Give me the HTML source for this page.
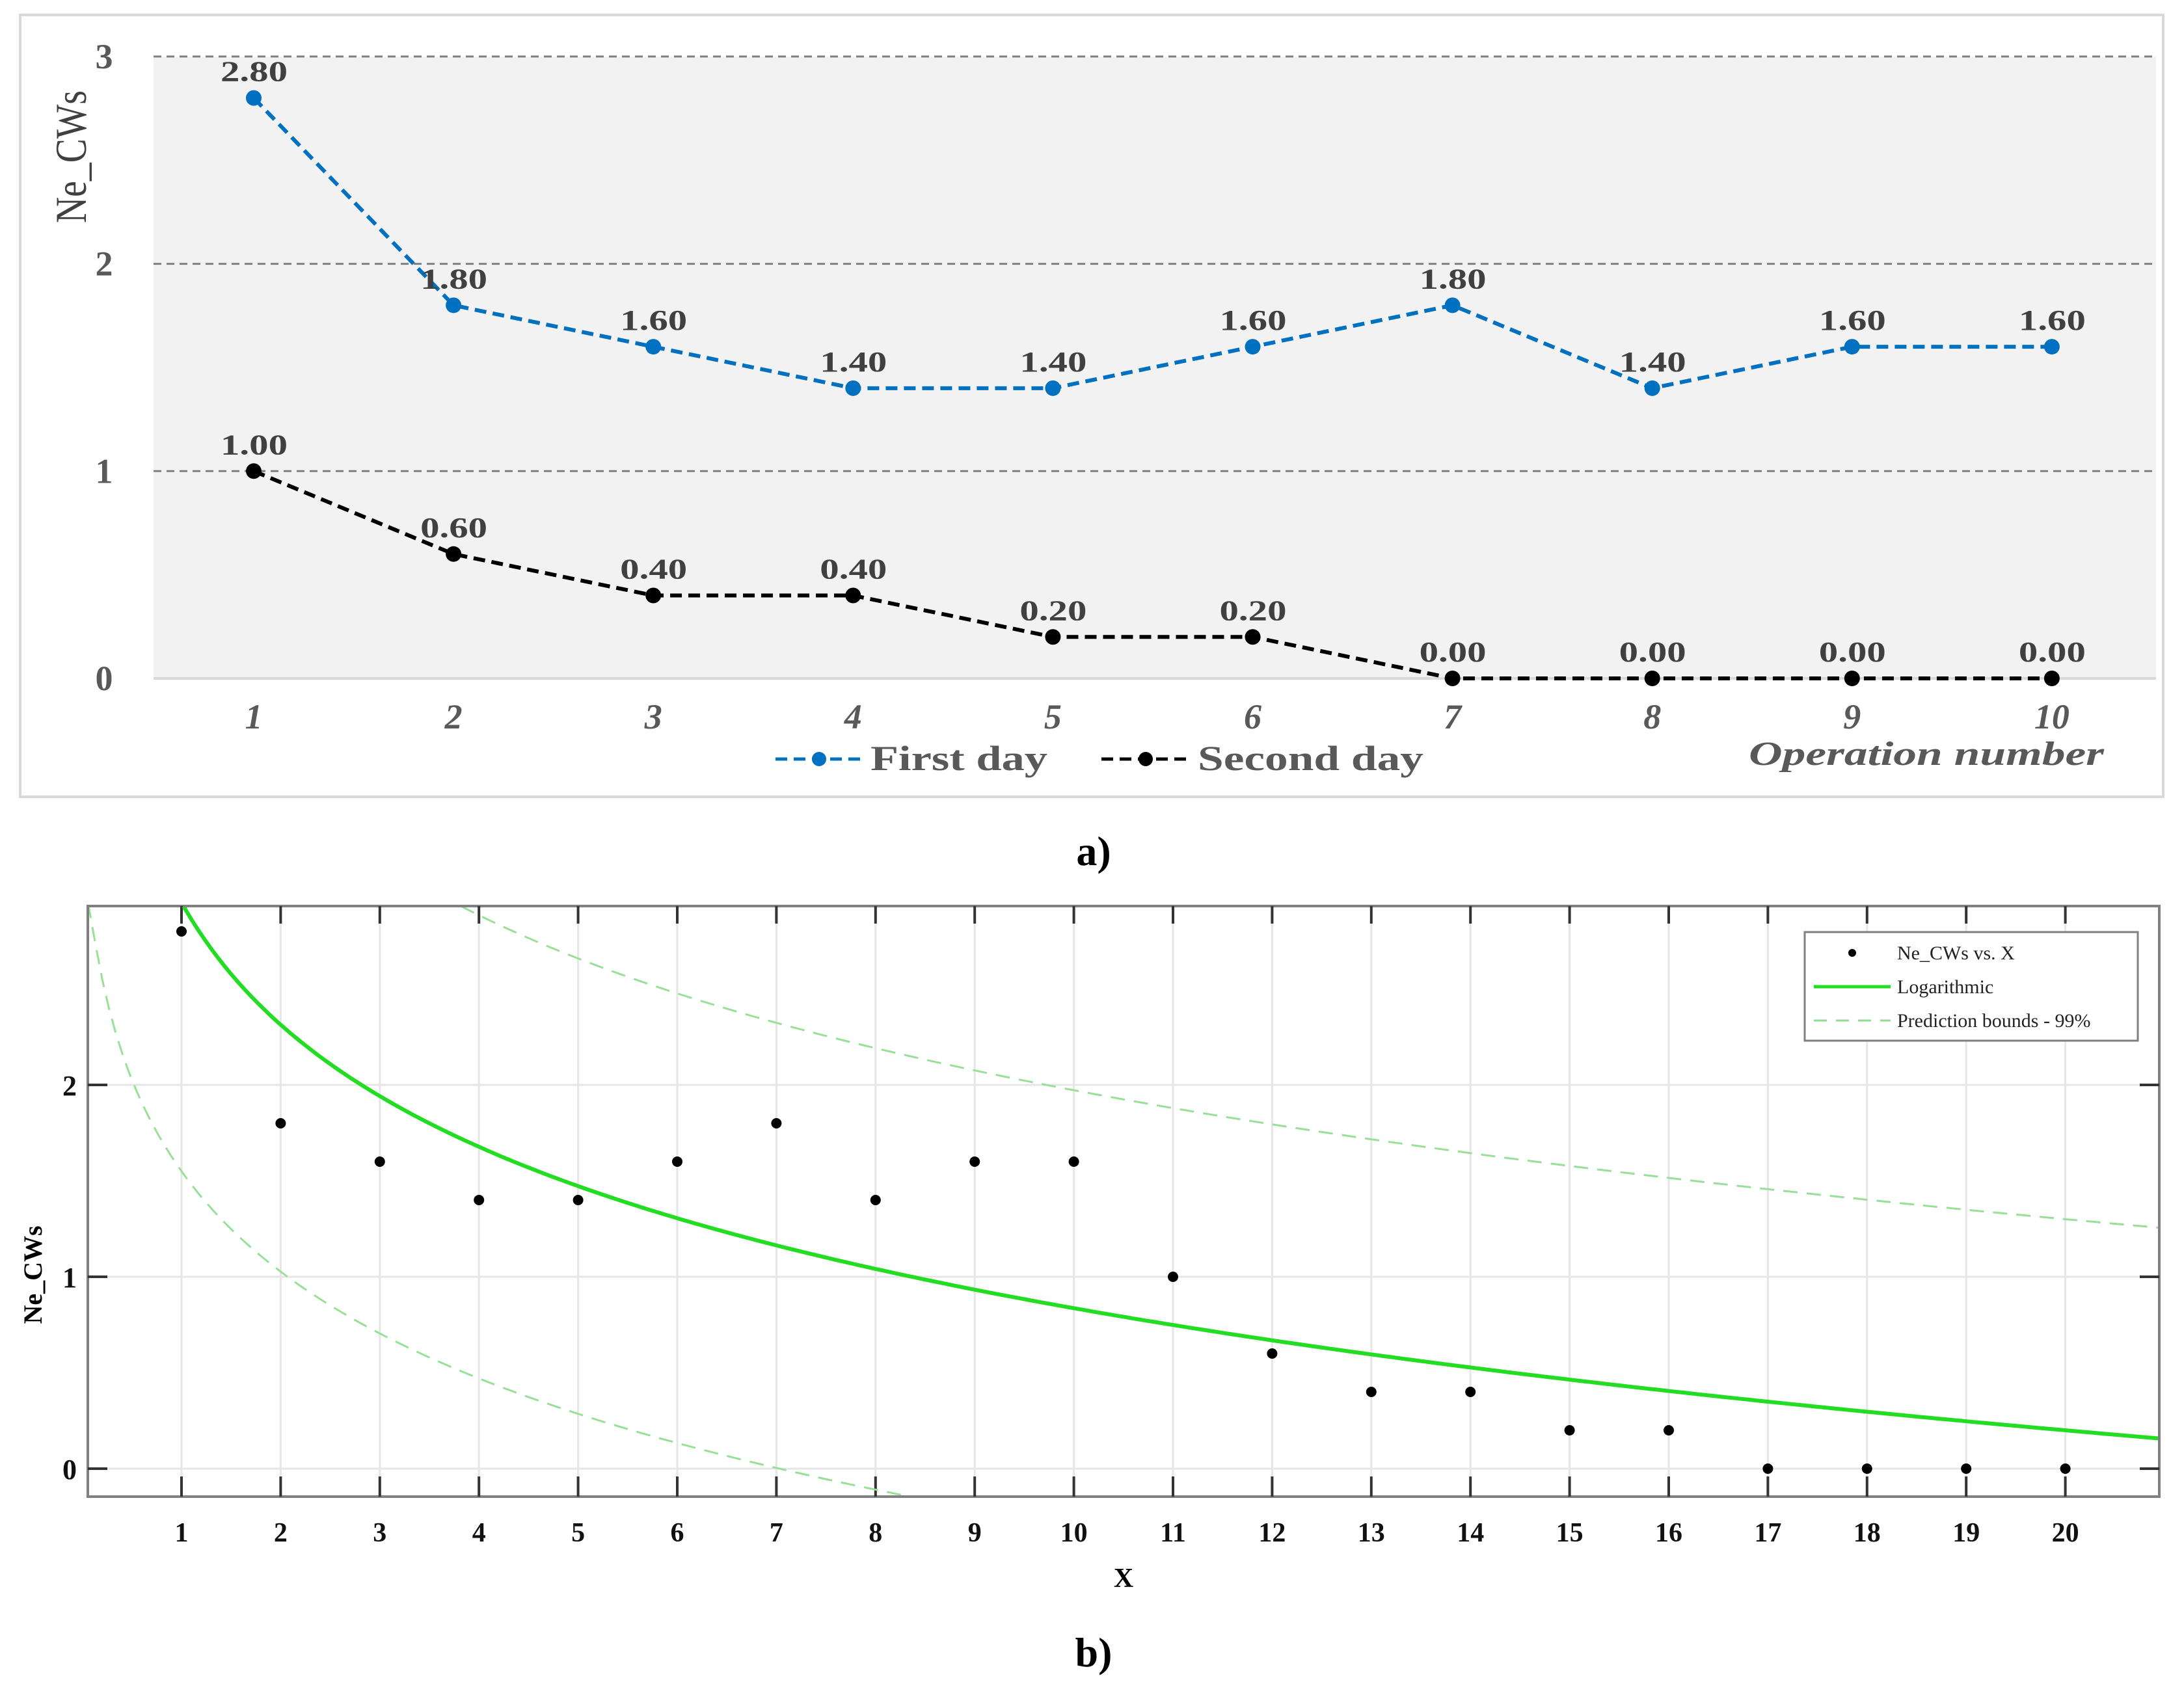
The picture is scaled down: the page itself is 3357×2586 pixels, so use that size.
<!DOCTYPE html>
<html><head><meta charset="utf-8">
<style>
html,body{margin:0;padding:0;background:#fff;}
svg{display:block;}
text{font-family:"Liberation Serif",serif;}
</style></head>
<body>
<svg id="fig" width="3357" height="2586" viewBox="0 0 3357 2586" xmlns="http://www.w3.org/2000/svg">
  <rect x="31" y="23" width="3294" height="1202" fill="#fff" stroke="#d9d9d9" stroke-width="4"/>
  <rect x="236" y="87" width="3078" height="956" fill="#f2f2f2"/>
  <g id="gA"></g>
  <text x="132" y="343" transform="rotate(-90 132 343)" text-anchor="start" font-size="68" fill="#404040" textLength="204" lengthAdjust="spacingAndGlyphs">Ne_CWs</text>
  <g>
    <g>
      <line x1="1192" y1="1167" x2="1327" y2="1167" stroke="#0070c0" stroke-width="5" stroke-dasharray="18,10"/>
      <circle cx="1259" cy="1167" r="11" fill="#0070c0"/>
      <text x="1338" y="1184" font-size="54" font-weight="bold" fill="#595959" textLength="272" lengthAdjust="spacingAndGlyphs">First day</text>
    </g>
    <g>
      <line x1="1693" y1="1167" x2="1830" y2="1167" stroke="#000" stroke-width="5" stroke-dasharray="18,10"/>
      <circle cx="1761" cy="1167" r="11" fill="#000"/>
      <text x="1841" y="1184" font-size="54" font-weight="bold" fill="#595959" textLength="347" lengthAdjust="spacingAndGlyphs">Second day</text>
    </g>
  </g>
  <text x="2688" y="1176" font-size="52" font-weight="bold" font-style="italic" fill="#595959" textLength="546" lengthAdjust="spacingAndGlyphs">Operation number</text>
  <text x="1681" y="1330" text-anchor="middle" font-size="64" font-weight="bold" fill="#000">a)</text>

  <rect x="135" y="1393" width="3184" height="908" fill="#fff" stroke="#808080" stroke-width="4"/>
  <g id="gB"></g>
  <text x="64" y="1960" transform="rotate(-90 64 1960)" text-anchor="middle" font-size="40" font-weight="bold" fill="#000">Ne_CWs</text>
  <text x="1727" y="2440" text-anchor="middle" font-size="42" font-weight="bold" fill="#000">X</text>
  <g>
    <rect x="2774" y="1433" width="512" height="167" fill="#fff" stroke="#808080" stroke-width="3"/>
    <circle cx="2847" cy="1465" r="6" fill="#000"/>
    <text x="2916" y="1475" font-size="30" fill="#222">Ne_CWs vs. X</text>
    <line x1="2788" y1="1517" x2="2906" y2="1517" stroke="#22dd22" stroke-width="5"/>
    <text x="2916" y="1527" font-size="30" fill="#222">Logarithmic</text>
    <line x1="2788" y1="1569" x2="2906" y2="1569" stroke="#90dd90" stroke-width="3" stroke-dasharray="20,14"/>
    <text x="2916" y="1579" font-size="30" fill="#222">Prediction bounds - 99%</text>
  </g>
  <text x="1681" y="2562" text-anchor="middle" font-size="64" font-weight="bold" fill="#000">b)</text>
</svg>
<script>
const NS="http://www.w3.org/2000/svg";
// ---- chart a data ----
const opNumbers=[1,2,3,4,5,6,7,8,9,10];
const firstDay=[2.8,1.8,1.6,1.4,1.4,1.6,1.8,1.4,1.6,1.6];
const secondDay=[1.0,0.6,0.4,0.4,0.2,0.2,0.0,0.0,0.0,0.0];
const yTicksA=[0,1,2,3];
// ---- chart b data ----
const xValsB=[1,2,3,4,5,6,7,8,9,10,11,12,13,14,15,16,17,18,19,20];
const yValsB=[2.8,1.8,1.6,1.4,1.4,1.6,1.8,1.4,1.6,1.6,1.0,0.6,0.4,0.4,0.2,0.2,0,0,0,0];
const yTicksB=[0,1,2];
const logFitCoef=[2.95,-0.918];      // y = a + b ln(x)
const boundHalfWidth=[1.014,0.386];  // delta = c + d/sqrt(x)

function mk(tag,attrs,parent){const e=document.createElementNS(NS,tag);for(const k in attrs)e.setAttribute(k,attrs[k]);parent.appendChild(e);return e;}

// chart a
const gA=document.getElementById('gA');
const xA=v=>390+(v-1)*307.1;
const yA=v=>1043-v*318.7;
yTicksA.forEach(t=>{
  if(t>0){const l=mk('line',{x1:236,x2:3314,y1:yA(t),y2:yA(t),stroke:'#808080','stroke-width':3,'stroke-dasharray':'12,8'},gA);
  
  }
  const tx=mk('text',{x:160,y:yA(t)+18,'text-anchor':'middle','font-size':54,'font-weight':'bold',fill:'#595959'},gA);
  tx.textContent=t;
  
  
});
const axl=mk('line',{x1:236,x2:3314,y1:1043,y2:1043,stroke:'#d9d9d9','stroke-width':4},gA);


opNumbers.forEach(n=>{
  const t=mk('text',{x:xA(n),y:1120,'text-anchor':'middle','font-size':54,'font-weight':'bold','font-style':'italic',fill:'#595959'},gA);
  t.textContent=n;
  
  
});
function seriesA(vals,color,name){
  const pts=vals.map((v,i)=>xA(opNumbers[i])+','+yA(v)).join(' ');
  const pl=mk('polyline',{points:pts,fill:'none',stroke:color,'stroke-width':6,'stroke-dasharray':'18,10'},gA);
  
  
  vals.forEach((v,i)=>{
    const c=mk('circle',{cx:xA(opNumbers[i]),cy:yA(v),r:12,fill:color},gA);
    
    
    const t=mk('text',{x:xA(opNumbers[i])-51,y:yA(v)-26,'font-size':44,'font-weight':'bold',fill:'#404040',textLength:103,lengthAdjust:'spacingAndGlyphs'},gA);
    t.textContent=v.toFixed(2);
    
    
  });
}
seriesA(firstDay,'#0070c0','first-day');
seriesA(secondDay,'#000000','second-day');

// chart b
const gB=document.getElementById('gB');
const xB=v=>279+(v-1)*152.4;
const yB=v=>2258-v*295;
const clip=mk('clipPath',{id:'clipB'},gB);
mk('rect',{x:137,y:1395,width:3180,height:904},clip);
xValsB.forEach(n=>{
  const g=mk('line',{x1:xB(n),x2:xB(n),y1:1393,y2:2301,stroke:'#e6e6e6','stroke-width':3},gB);
  
  
  mk('line',{x1:xB(n),x2:xB(n),y1:2301,y2:2270,stroke:'#333','stroke-width':4},gB);
  mk('line',{x1:xB(n),x2:xB(n),y1:1393,y2:1420,stroke:'#333','stroke-width':4},gB);
  const t=mk('text',{x:xB(n),y:2370,'text-anchor':'middle','font-size':42,'font-weight':'bold',fill:'#111'},gB);
  t.textContent=n;
  
  
});
yTicksB.forEach(v=>{
  const g=mk('line',{x1:135,x2:3319,y1:yB(v),y2:yB(v),stroke:'#e6e6e6','stroke-width':3},gB);
  
  
  mk('line',{x1:135,x2:165,y1:yB(v),y2:yB(v),stroke:'#333','stroke-width':4},gB);
  mk('line',{x1:3289,x2:3319,y1:yB(v),y2:yB(v),stroke:'#333','stroke-width':4},gB);
  const t=mk('text',{x:118,y:yB(v)+16,'text-anchor':'end','font-size':44,'font-weight':'bold',fill:'#111'},gB);
  t.textContent=v;
  
  
});
const fit=x=>logFitCoef[0]+logFitCoef[1]*Math.log(x);
const del=x=>boundHalfWidth[0]+boundHalfWidth[1]/Math.sqrt(x);
function curve(f,x0,x1){let p=[];for(let i=0;i<=300;i++){const x=x0+(x1-x0)*i/300;p.push(xB(x).toFixed(1)+','+yB(f(x)).toFixed(1));}return p.join(' ');}
const up=mk('polyline',{points:curve(x=>fit(x)+del(x),1,20.95),fill:'none',stroke:'#98e098','stroke-width':3,'stroke-dasharray':'22,14','clip-path':'url(#clipB)'},gB);


const lo=mk('polyline',{points:curve(x=>fit(x)-del(x),0.06,20.95),fill:'none',stroke:'#98e098','stroke-width':3,'stroke-dasharray':'22,14','clip-path':'url(#clipB)'},gB);


const fl=mk('polyline',{points:curve(fit,0.9,20.95),fill:'none',stroke:'#22dd22','stroke-width':6,'clip-path':'url(#clipB)'},gB);


xValsB.forEach((x,i)=>{
  const c=mk('circle',{cx:xB(x),cy:yB(yValsB[i]),r:8,fill:'#000'},gB);
  
  
});
</script>
</body></html>
